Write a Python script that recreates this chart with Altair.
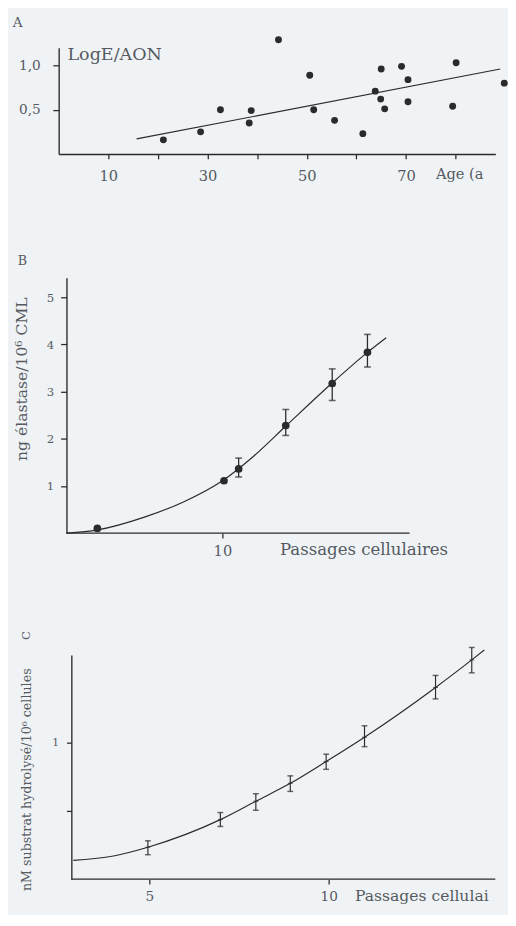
import altair as alt
import pandas as pd

# ---------------- Panel A : LogE/AON vs age ----------------
A_age = [21.1, 28.6, 32.6, 38.4, 38.8, 44.3, 50.6, 51.4, 55.6, 61.3,
         63.8, 65.0, 64.9, 65.7, 69.1, 70.4, 70.4, 79.4, 80.1, 89.8]
A_log = [0.16, 0.25, 0.50, 0.35, 0.49, 1.29, 0.89, 0.50, 0.38, 0.23,
         0.71, 0.96, 0.62, 0.51, 0.99, 0.84, 0.59, 0.54, 1.03, 0.80]
A_fit_age = [15.7, 89.0]
A_fit_log = [0.17, 0.96]
A_xticks = [10, 20, 30, 40, 50, 60, 70, 80]
A_yticks = [0.5, 1.0]

# ---------------- Panel B : ng elastase vs passages ----------------
B_passage = [1.98, 10.1, 11.04, 14.06, 17.04, 19.3]
B_value = [0.10, 1.11, 1.36, 2.28, 3.17, 3.83]
B_err_passage = [11.04, 14.06, 17.04, 19.3]
B_err_lo = [1.19, 2.07, 2.81, 3.52]
B_err_hi = [1.59, 2.62, 3.48, 4.21]
B_curve_x = [0.0, 2.0, 5.0, 7.5, 10.0, 12.0, 14.1, 17.0, 19.3, 20.5]
B_curve_y = [0.0, 0.07, 0.34, 0.66, 1.11, 1.63, 2.28, 3.17, 3.83, 4.14]
B_xticks = [10]
B_yticks = [1, 2, 3, 4, 5]

# ---------------- Panel C : nM substrat hydrolysé vs passages ----------------
C_passage = [4.96, 6.98, 7.97, 8.93, 9.93, 11.0, 12.98, 13.99]
C_value = [0.234, 0.436, 0.571, 0.702, 0.862, 1.04, 1.405, 1.607]
C_err_lo = [0.179, 0.386, 0.505, 0.643, 0.805, 0.971, 1.321, 1.512]
C_err_hi = [0.281, 0.488, 0.626, 0.757, 0.916, 1.124, 1.493, 1.698]
C_curve_x = [2.88, 3.92, 4.96, 6.98, 7.97, 8.93, 9.93, 11.0, 12.98, 13.99, 14.34]
C_curve_y = [0.138, 0.166, 0.234, 0.436, 0.571, 0.702, 0.862, 1.04, 1.405, 1.607, 1.68]
C_xticks = [5, 10]
C_yticks = [0.5, 1.0]

FONT = "DejaVu Serif"
INK = "#2b2b2b"
TXT = "#555a60"
BG = "#f0f3f6"


def label(text, x, y, size=15, angle=0, align="left", limit=0, color=TXT):
    kw = dict(font=FONT, fontSize=size, color=color, align=align,
              baseline="middle", angle=angle)
    if limit:
        kw["limit"] = limit
        kw["ellipsis"] = " "
    return alt.Chart(pd.DataFrame({"t": [text]})).mark_text(**kw).encode(
        text="t:N", x=alt.value(x), y=alt.value(y))


# ---------- Panel A ----------
def xA(f):
    return alt.X(f"{f}:Q", scale=alt.Scale(domain=[0, 88], nice=False, zero=False),
                 axis=alt.Axis(values=A_xticks, title=None, tickSize=5, labelPadding=10,
                               labelFontSize=15,
                               labelExpr="datum.value % 20 == 10 ? datum.label : ''"))


def yA(f):
    return alt.Y(f"{f}:Q", scale=alt.Scale(domain=[0, 1.2], nice=False),
                 axis=alt.Axis(values=A_yticks, title=None, tickSize=6, labelPadding=13,
                               labelFontSize=14,
                               labelExpr="replace(format(datum.value, '.1f'), '.', ',')"))


dfA = pd.DataFrame({"age": A_age, "log": A_log})
dfAfit = pd.DataFrame({"age": A_fit_age, "log": A_fit_log})
pA = alt.Chart(dfA).mark_point(filled=True, size=50, color=INK, opacity=1).encode(xA("age"), yA("log"))
lA = alt.Chart(dfAfit).mark_line(color=INK, strokeWidth=1.2).encode(xA("age"), yA("log"))
panelA = alt.layer(
    lA, pA,
    label("A", -47, -25, size=14),
    label("LogE/AON", 9, 8, size=18),
    label("Age (ans)", 387, 130, size=15, limit=61),
).properties(width=448, height=109)

# ---------- Panel B ----------
def xB(f):
    return alt.X(f"{f}:Q", scale=alt.Scale(domain=[-0.5, 22], nice=False, zero=False),
                 axis=alt.Axis(values=B_xticks, title=None, domain=False, tickSize=5,
                               labelPadding=6, labelFontSize=15))


def yB(f):
    return alt.Y(f"{f}:Q", scale=alt.Scale(domain=[0, 5.41], nice=False),
                 axis=alt.Axis(values=B_yticks, title=None, offset=-8, tickSize=6,
                               labelPadding=7, labelFontSize=12))


dfB = pd.DataFrame({"p": B_passage, "v": B_value})
dfBerr = pd.DataFrame({"p": B_err_passage, "lo": B_err_lo, "hi": B_err_hi})
dfBc = pd.DataFrame({"p": B_curve_x, "v": B_curve_y})
baseB = alt.Chart(pd.DataFrame({"a": [0.0], "b": [22.0], "z": [0.0]})).mark_rule(
    color=INK, strokeWidth=1.4).encode(xB("a"), x2="b:Q", y=yB("z"))
curveB = alt.Chart(dfBc).mark_line(color=INK, strokeWidth=1.2, interpolate="monotone").encode(xB("p"), yB("v"))
errB = alt.Chart(dfBerr).mark_rule(color=INK, strokeWidth=1.3).encode(xB("p"), yB("lo"), y2="hi:Q")
capB1 = alt.Chart(dfBerr).mark_tick(orient="horizontal", size=7, thickness=1.6, color=INK).encode(xB("p"), yB("lo"))
capB2 = alt.Chart(dfBerr).mark_tick(orient="horizontal", size=7, thickness=1.6, color=INK).encode(xB("p"), yB("hi"))
ptsB = alt.Chart(dfB).mark_point(filled=True, size=62, color=INK, opacity=1).encode(xB("p"), yB("v"))
panelB = alt.layer(
    baseB, curveB, errB, capB1, capB2, ptsB,
    label("B", -42, -17, size=13),
    label("ng élastase/10⁶ CML", -38, 104, size=16, angle=270, align="center"),
    label("Passages cellulaires", 227, 279, size=17),
).properties(width=360, height=262)

# ---------- Panel C ----------
def xC(f):
    return alt.X(f"{f}:Q", scale=alt.Scale(domain=[2.473, 14.647], nice=False, zero=False),
                 axis=alt.Axis(values=C_xticks, title=None, domain=False, tickSize=5,
                               labelPadding=6, labelFontSize=14))


def yC(f):
    return alt.Y(f"{f}:Q", scale=alt.Scale(domain=[0, 1.643], nice=False),
                 axis=alt.Axis(values=C_yticks, title=None, offset=-13, tickSize=5,
                               labelPadding=8, labelFontSize=11,
                               labelExpr="datum.value == 1 ? '1' : ''"))


dfCerr = pd.DataFrame({"p": C_passage, "v": C_value, "lo": C_err_lo, "hi": C_err_hi})
dfCc = pd.DataFrame({"p": C_curve_x, "v": C_curve_y})
baseC = alt.Chart(pd.DataFrame({"a": [2.826], "b": [14.647], "z": [0.0]})).mark_rule(
    color=INK, strokeWidth=1.5).encode(xC("a"), x2="b:Q", y=yC("z"))
curveC = alt.Chart(dfCc).mark_line(color=INK, strokeWidth=1.2, interpolate="monotone").encode(xC("p"), yC("v"))
errC = alt.Chart(dfCerr).mark_rule(color=INK, strokeWidth=1.2).encode(xC("p"), yC("lo"), y2="hi:Q")
capC1 = alt.Chart(dfCerr).mark_tick(orient="horizontal", size=6, thickness=1.5, color=INK).encode(xC("p"), yC("lo"))
capC2 = alt.Chart(dfCerr).mark_tick(orient="horizontal", size=6, thickness=1.5, color=INK).encode(xC("p"), yC("hi"))
midC = alt.Chart(dfCerr).mark_tick(orient="horizontal", size=5, thickness=1.2, color=INK).encode(xC("p"), yC("v"))
panelC = alt.layer(
    baseC, curveC, errC, capC1, capC2, midC,
    label("C", -33, -20, size=12, angle=270, align="center"),
    label("nM substrat hydrolysé/10⁶ cellules", -32, 128, size=13, angle=270, align="center"),
    label("Passages cellulaires", 304, 247, size=16, limit=144),
).properties(width=448, height=230)

chart = alt.vconcat(panelA, panelB, panelC, spacing=74).properties(
    padding={"left": 5, "top": -3, "right": 0, "bottom": 0},
    background=BG,
).configure_view(stroke=None).configure_axis(
    grid=False, domainColor=INK, domainWidth=1.4, tickColor=INK, tickWidth=1.3,
    labelColor=TXT, labelFont=FONT,
)

chart.save("out.html", embed_options={"renderer": "svg", "actions": False})
